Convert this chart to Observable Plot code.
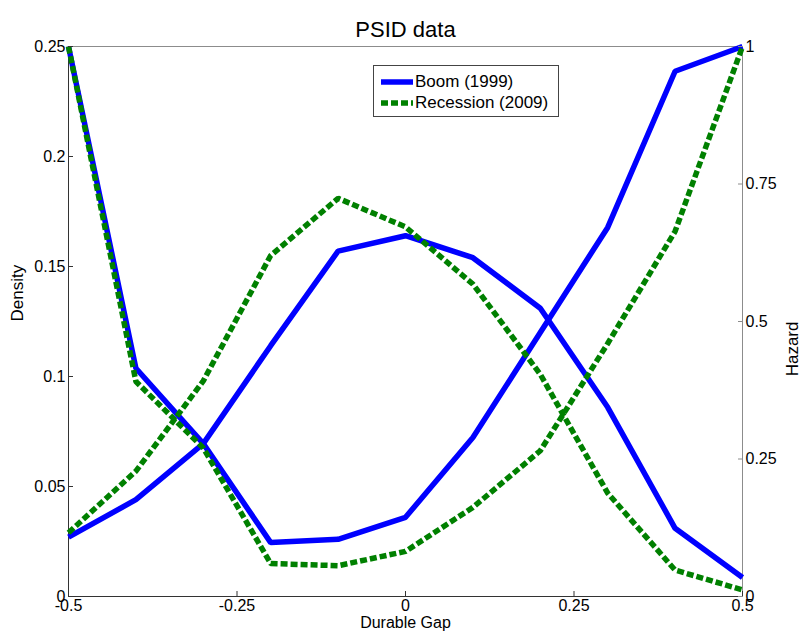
<!DOCTYPE html>
<html>
<head>
<meta charset="utf-8">
<script src="https://cdn.jsdelivr.net/npm/d3@7"></script>
<script src="https://cdn.jsdelivr.net/npm/@observablehq/plot@0.6"></script>
<style>
  html, body { margin: 0; padding: 0; background: #fff; }
  #wrap { position: relative; width: 803px; height: 633px; font-family: "Liberation Sans", Arial, sans-serif; overflow: hidden; }
  #legend { position: absolute; left: 373px; top: 65px; width: 186px; height: 52px; border: 1px solid #444; background: #fff; box-sizing: border-box; }
  #legend .row { position: absolute; left: 7px; height: 20px; display: flex; align-items: center; font-size: 17px; color: #000; white-space: nowrap; }
</style>
</head>
<body>
<div id="wrap"></div>
<script>
// Durable gap grid
const gap = [-0.5, -0.4, -0.3, -0.2, -0.1, 0, 0.1, 0.2, 0.3, 0.4, 0.5];
// Density (left axis)
const boomDensity = [0.027, 0.044, 0.0695, 0.114, 0.157, 0.164, 0.154, 0.131, 0.086, 0.031, 0.0086];
const recessionDensity = [0.029, 0.057, 0.098, 0.155, 0.181, 0.168, 0.142, 0.101, 0.047, 0.012, 0.003];
// Hazard (right axis)
const boomHazard = [1, 0.415, 0.278, 0.098, 0.104, 0.144, 0.289, 0.48, 0.671, 0.955, 1];
const recessionHazard = [1, 0.391, 0.27, 0.060, 0.056, 0.082, 0.162, 0.265, 0.46, 0.664, 1];
// Ticks
const xTicks = [-0.5, -0.25, 0, 0.25, 0.5];
const densityTicks = [0, 0.05, 0.1, 0.15, 0.2, 0.25];
const hazardTicks = [0, 0.25, 0.5, 0.75, 1];
const seriesNames = ["Boom (1999)", "Recession (2009)"];

const densityMax = 0.25, hazardMax = 1;
const k = densityMax / hazardMax; // maps hazard onto density scale

const rows = [];
gap.forEach((g, i) => {
  rows.push({x: g, y: boomDensity[i], s: "bd", series: seriesNames[0]});
  rows.push({x: g, y: recessionDensity[i], s: "rd", series: seriesNames[1]});
  rows.push({x: g, y: boomHazard[i] * k, s: "bh", series: seriesNames[0]});
  rows.push({x: g, y: recessionHazard[i] * k, s: "rh", series: seriesNames[1]});
});
const boomRows = rows.filter(d => d.series === seriesNames[0]);
const recRows = rows.filter(d => d.series === seriesNames[1]);

const chart = Plot.plot({
  width: 803,
  height: 633,
  marginLeft: 68,
  marginRight: 61,
  marginTop: 46,
  marginBottom: 37,
  style: {fontFamily: "Liberation Sans, Arial, sans-serif", fontSize: "16px", color: "#000", background: "#fff"},
  x: {domain: [-0.5, 0.5]},
  y: {domain: [0, densityMax]},
  marks: [
    Plot.frame({stroke: "#8c8c8c"}),
    Plot.ruleY([0], {stroke: "#333"}),
    Plot.ruleX([-0.5], {stroke: "#333"}),
    Plot.line(boomRows, {x: "x", y: "y", z: "s", stroke: "#0000ff", strokeWidth: 5.5, strokeLinejoin: "miter", strokeLinecap: "butt"}),
    Plot.line(recRows, {x: "x", y: "y", z: "s", stroke: "#008000", strokeWidth: 5.5, strokeDasharray: "7,3", strokeLinejoin: "miter", strokeLinecap: "butt"}),
    Plot.axisX({ticks: xTicks, tickFormat: d => String(d), tickSize: -5, tickPadding: 8, label: null, stroke: "#333", fontSize: 16}),
    Plot.axisY({ticks: densityTicks, tickFormat: d => String(d), tickSize: -5, tickPadding: 8, label: null, anchor: "left", stroke: "#333", fontSize: 16}),
    Plot.axisY({ticks: hazardTicks.map(h => h * k), tickFormat: d => String(+(d / k).toFixed(4)), tickSize: -5, tickPadding: 8, label: null, anchor: "right", stroke: "#8c8c8c", fontSize: 16}),
    Plot.text(["PSID data"], {frameAnchor: "top", dy: -25, fontSize: 22}),
    Plot.text(["Density"], {frameAnchor: "left", dx: -51, rotate: -90, fontSize: 17}),
    Plot.text(["Hazard"], {frameAnchor: "right", dx: 50, rotate: -90, fontSize: 17}),
    Plot.text(["Durable Gap"], {frameAnchor: "bottom", dy: 31, fontSize: 16})
  ]
});

const wrap = document.getElementById("wrap");
wrap.appendChild(chart);

// Legend
const legend = document.createElement("div");
legend.id = "legend";
const styles = [{color: "#0000ff", dash: null}, {color: "#008000", dash: "7,3"}];
seriesNames.forEach((name, i) => {
  const row = document.createElement("div");
  row.className = "row";
  row.style.top = (i === 0 ? 6 : 27) + "px";
  const sw = document.createElementNS("http://www.w3.org/2000/svg", "svg");
  sw.setAttribute("width", 32); sw.setAttribute("height", 20);
  const ln = document.createElementNS("http://www.w3.org/2000/svg", "line");
  ln.setAttribute("x1", 0); ln.setAttribute("x2", 32); ln.setAttribute("y1", 10); ln.setAttribute("y2", 10);
  ln.setAttribute("stroke", styles[i].color); ln.setAttribute("stroke-width", 5.5);
  if (styles[i].dash) ln.setAttribute("stroke-dasharray", styles[i].dash);
  sw.appendChild(ln);
  const label = document.createElement("span");
  label.textContent = name;
  label.style.marginLeft = "2px";
  row.appendChild(sw); row.appendChild(label);
  legend.appendChild(row);
});
wrap.appendChild(legend);
</script>
</body>
</html>
